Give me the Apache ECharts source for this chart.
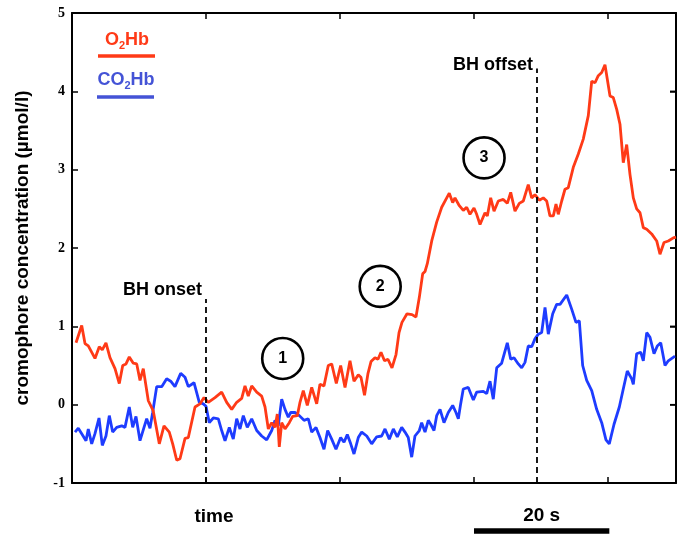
<!DOCTYPE html>
<html>
<head>
<meta charset="utf-8">
<script src="https://cdn.jsdelivr.net/npm/echarts@6/dist/echarts.min.js"></script>
<style>
  html, body { margin: 0; padding: 0; background: #fff; }
  #chart { width: 685px; height: 539px; }
</style>
</head>
<body>
<div id="chart"></div>
<script>
// time in s, concentration in µmol/l
const o2Time = [0.6, 1.45, 1.94, 2.43, 3.43, 4.07, 4.52, 5.07, 5.67, 6.42, 7.06, 7.57, 8.06, 8.55, 9.15, 9.66,
  10.15, 10.64, 11.39, 12.13, 13.03, 13.73, 14.52, 15.03, 15.63, 16.12, 16.87, 17.36, 18.36, 19.1, 19.7,
  20.34, 21.34, 22.34, 23.09, 23.84, 24.58, 25.33, 25.82, 26.31, 26.82, 27.57, 28.31, 28.81, 29.3, 29.81,
  30.3, 30.64, 30.94, 31.3, 31.79, 32.43, 32.94, 33.63, 34.03, 34.52, 35.12, 35.78, 36.52, 37.01, 37.61,
  38.25, 38.76, 39.45, 40.1, 40.75, 41.49, 42.09, 42.73, 43.13, 43.66, 44.18, 44.63, 45.22, 45.67, 46.12,
  46.64, 47.16, 47.76, 48.36, 48.81, 49.25, 50.0, 50.75, 51.34, 51.84, 52.34, 52.69, 53.03, 53.69, 54.43,
  55.18, 55.93, 56.31, 56.82, 57.16, 57.81, 58.4, 58.91, 59.4, 60.0, 60.4, 60.9, 61.64, 61.99, 62.49,
  62.99, 63.63, 64.37, 64.97, 65.48, 66.12, 66.76, 67.36, 68.1, 68.61, 69.1, 69.75, 70.34, 70.85, 71.34,
  71.84, 72.24, 72.58, 73.09, 73.58, 74.07, 74.82, 75.57, 76.31, 77.06, 77.57, 78.06, 78.55, 79.06, 79.55,
  80.3, 80.79, 81.3, 81.79, 82.28, 82.79, 83.28, 83.78, 84.28, 84.78, 85.27, 85.78, 86.52, 87.27, 87.76,
  88.36, 89.0, 89.75, 90.15];
const o2Values = [0.79, 1.01, 0.78, 0.75, 0.59, 0.74, 0.70, 0.79, 0.60, 0.46, 0.27, 0.50, 0.52, 0.61, 0.53, 0.52,
  0.31, 0.46, 0.05, -0.08, -0.50, -0.27, -0.35, -0.50, -0.71, -0.69, -0.43, -0.42, -0.03, 0.01, 0.09,
  0.03, 0.09, 0.16, 0.03, -0.06, 0.03, 0.08, 0.24, 0.11, 0.24, 0.16, 0.11, -0.03, -0.31, -0.23,
  -0.29, -0.12, -0.54, -0.23, -0.31, -0.23, -0.15, -0.14, 0.03, 0.18, -0.01, 0.22, 0.01, 0.26, 0.24,
  0.50, 0.52, 0.27, 0.50, 0.22, 0.56, 0.30, 0.38, 0.35, 0.12, 0.40, 0.55, 0.60, 0.58, 0.67,
  0.56, 0.58, 0.47, 0.64, 0.92, 1.05, 1.16, 1.15, 1.12, 1.37, 1.67, 1.70, 1.80, 2.09, 2.33,
  2.52, 2.64, 2.70, 2.58, 2.64, 2.54, 2.48, 2.52, 2.43, 2.51, 2.43, 2.30, 2.45, 2.41, 2.64,
  2.47, 2.60, 2.62, 2.57, 2.71, 2.47, 2.57, 2.60, 2.81, 2.64, 2.68, 2.61, 2.64, 2.60, 2.41,
  2.41, 2.56, 2.43, 2.60, 2.75, 2.77, 3.03, 3.20, 3.39, 3.69, 4.13, 4.11, 4.20, 4.24, 4.34,
  3.94, 3.92, 3.77, 3.58, 3.09, 3.32, 2.94, 2.64, 2.50, 2.45, 2.26, 2.24, 2.18, 2.09, 1.92,
  2.07, 2.09, 2.13, 2.14];

const co2Time = [0.45, 0.94, 1.45, 2.09, 2.43, 2.94, 3.43, 4.03, 4.52, 5.07, 5.57, 6.07, 6.67, 7.42, 7.91, 8.55,
  9.06, 9.55, 10.15, 10.75, 11.15, 11.64, 12.04, 12.64, 13.39, 14.13, 14.73, 15.37, 16.22, 16.87, 17.36,
  18.21, 19.0, 19.6, 20.0, 20.49, 21.09, 21.84, 22.34, 22.84, 23.48, 24.07, 24.58, 25.07, 25.57, 26.16,
  26.82, 27.57, 28.31, 29.06, 29.81, 30.3, 30.79, 31.3, 31.79, 32.28, 32.64, 33.28, 33.93, 34.63, 35.27,
  35.78, 36.42, 37.01, 37.61, 38.16, 38.76, 39.4, 40.1, 40.6, 41.09, 41.6, 42.09, 42.73, 43.24, 43.99,
  44.73, 45.48, 46.22, 46.72, 47.36, 47.96, 48.55, 49.21, 49.7, 50.19, 50.7, 51.19, 51.84, 52.19, 52.69,
  53.18, 53.54, 54.03, 54.43, 54.93, 55.52, 56.16, 56.82, 57.31, 57.66, 58.01, 58.4, 59.15, 59.9, 60.4,
  61.39, 61.9, 62.39, 62.88, 63.39, 64.13, 64.97, 65.48, 65.97, 66.61, 67.12, 67.61, 68.1, 68.61, 69.1,
  69.6, 70.1, 70.6, 71.09, 71.75, 72.34, 72.84, 73.84, 74.58, 75.22, 75.72, 76.22, 76.82, 77.57, 78.31,
  79.06, 79.7, 80.19, 80.9, 81.69, 82.28, 82.88, 83.54, 83.78, 84.28, 84.88, 85.27, 85.78, 86.27, 86.87,
  87.36, 87.87, 88.51, 89.0, 90.0];
const co2Values = [-0.35, -0.30, -0.37, -0.46, -0.31, -0.50, -0.37, -0.17, -0.52, -0.40, -0.14, -0.35, -0.29, -0.27, -0.29, -0.03,
  -0.29, -0.15, -0.46, -0.29, -0.18, -0.30, -0.10, 0.23, 0.23, 0.33, 0.30, 0.23, 0.40, 0.35, 0.23,
  0.28, 0.03, 0.01, -0.02, -0.23, -0.17, -0.18, -0.33, -0.46, -0.29, -0.44, -0.18, -0.31, -0.14, -0.29,
  -0.18, -0.33, -0.40, -0.45, -0.33, -0.20, -0.27, 0.07, -0.06, -0.16, -0.10, -0.10, -0.14, -0.20, -0.18,
  -0.35, -0.29, -0.42, -0.57, -0.33, -0.44, -0.57, -0.42, -0.48, -0.38, -0.50, -0.63, -0.42, -0.35, -0.40,
  -0.50, -0.41, -0.40, -0.31, -0.44, -0.31, -0.41, -0.29, -0.35, -0.42, -0.67, -0.40, -0.33, -0.23, -0.35,
  -0.20, -0.25, -0.33, -0.14, -0.06, -0.23, -0.10, -0.01, -0.10, -0.18, 0.01, 0.20, 0.22, 0.06, 0.16,
  0.17, 0.14, 0.30, 0.07, 0.47, 0.53, 0.79, 0.58, 0.60, 0.52, 0.47, 0.54, 0.75, 0.74, 0.84,
  0.90, 0.92, 1.24, 0.90, 1.16, 1.28, 1.28, 1.40, 1.22, 1.05, 1.07, 0.50, 0.31, 0.18, -0.06,
  -0.23, -0.45, -0.50, -0.25, -0.03, 0.20, 0.43, 0.33, 0.26, 0.65, 0.67, 0.56, 0.92, 0.86, 0.65,
  0.75, 0.79, 0.50, 0.56, 0.62];

// numbered phases and breath-hold events
const phaseLabels = ['1', '2', '3'];
const phaseTime = [31.45, 46.0, 61.5];
const phaseLevel = [0.59, 1.51, 3.15];
const onsetTime = 20;
const offsetTime = 69.4;
const scaleBarFrom = 60;
const scaleBarTo = 80.2;

const RED = '#ff3a17';
const BLUE = '#1e3cff';
const SANS = 'Liberation Sans, Arial, sans-serif';
const SERIF = 'Liberation Serif, Times New Roman, serif';

const zip = (a, b) => a.map((t, i) => [t, b[i]]);

const chart = echarts.init(document.getElementById('chart'));

const frameAxis = () => ({
  axisLine: { show: true, onZero: false, lineStyle: { color: '#000', width: 2 } },
  axisTick: { show: true, inside: true, length: 6, lineStyle: { color: '#000', width: 1.5 } },
  axisLabel: { show: false },
  splitLine: { show: false }
});

const option = {
  animation: false,
  backgroundColor: '#fff',
  grid: { left: 72, right: 9, top: 13, bottom: 56 },
  xAxis: [
    Object.assign({ type: 'value', min: 0, max: 90.15, interval: 20, position: 'bottom' }, frameAxis()),
    Object.assign({ type: 'value', min: 0, max: 90.15, interval: 20, position: 'top' }, frameAxis())
  ],
  yAxis: [
    {
      type: 'value', min: -1, max: 5, interval: 1, position: 'left',
      name: 'cromophore concentration (µmol/l)',
      nameLocation: 'middle', nameGap: 40, nameRotate: 90,
      nameTextStyle: { fontFamily: SANS, fontWeight: 'bold', fontSize: 19, color: '#000' },
      axisLine: { show: true, onZero: false, lineStyle: { color: '#000', width: 2 } },
      axisTick: { show: true, inside: true, length: 6, lineStyle: { color: '#000', width: 1.5 } },
      axisLabel: { fontFamily: SERIF, fontWeight: 'bold', fontSize: 14, color: '#000', margin: 7 },
      splitLine: { show: false }
    },
    Object.assign({ type: 'value', min: -1, max: 5, interval: 1, position: 'right', alignTicks: false }, frameAxis())
  ],
  series: [
    {
      name: 'CO2Hb', type: 'line', data: zip(co2Time, co2Values),
      showSymbol: false, lineStyle: { color: BLUE, width: 2.8 }, itemStyle: { color: BLUE }
    },
    {
      name: 'O2Hb', type: 'line', data: zip(o2Time, o2Values),
      showSymbol: false, lineStyle: { color: RED, width: 2.8 }, itemStyle: { color: RED },
      markLine: {
        silent: true,
        symbol: ['none', 'none'],
        label: { show: false },
        lineStyle: { color: '#000', width: 1.8, type: [6, 4] },
        data: [
          [{ coord: [onsetTime, -1] }, { coord: [onsetTime, 1.35] }],
          [{ coord: [offsetTime, -1] }, { coord: [offsetTime, 4.29] }]
        ]
      },
      markPoint: {
        silent: true,
        symbol: 'circle',
        symbolSize: 41,
        itemStyle: { color: '#fff', borderColor: '#000', borderWidth: 2.6 },
        label: { show: true, formatter: p => p.name, fontFamily: SANS, fontWeight: 'bold', fontSize: 16, color: '#000' },
        data: phaseLabels.map((l, i) => ({ name: l, coord: [phaseTime[i], phaseLevel[i]] }))
      }
    }
  ]
};

chart.setOption(option);

// annotations outside data: event names, legend, time scale bar
const px = (t, v) => chart.convertToPixel({ xAxisIndex: 0, yAxisIndex: 0 }, [t, v]);
const onsetTop = px(onsetTime, 1.35);
const offsetTop = px(offsetTime, 4.29);
const barA = px(scaleBarFrom, -1);
const barB = px(scaleBarTo, -1);
const yTickLevels = [0, 1, 2, 3, 4];

const bold = (size, fill) => ({ fontFamily: SANS, fontWeight: 'bold', fontSize: size, fill: fill });

const chemText = (x, y, pre, post, fill) => ({
  type: 'text', x: x, y: y,
  style: {
    text: '{n|' + pre + '}{s|2}{n|' + post + '}',
    align: 'center', verticalAlign: 'middle',
    fill: fill,
    rich: {
      n: Object.assign(bold(18, fill), { lineHeight: 22 }),
      s: Object.assign(bold(11, fill), { verticalAlign: 'bottom', lineHeight: 22 })
    }
  }
});

// inward ticks on the right frame edge
const rightTicks = yTickLevels.map(v => {
  const p = px(90.15, v);
  return { type: 'line', shape: { x1: p[0] - 6, y1: p[1], x2: p[0], y2: p[1] }, style: { stroke: '#000', lineWidth: 1.5 } };
});

chart.setOption({
  graphic: [
    { type: 'text', x: onsetTop[0] - 4, y: onsetTop[1] - 9,
      style: Object.assign(bold(18, '#000'), { text: 'BH onset', align: 'right', verticalAlign: 'middle' }) },
    { type: 'text', x: offsetTop[0] - 4, y: offsetTop[1] - 4,
      style: Object.assign(bold(18, '#000'), { text: 'BH offset', align: 'right', verticalAlign: 'middle' }) },
    chemText(127, 40, 'O', 'Hb', RED),
    { type: 'line', shape: { x1: 98, y1: 56, x2: 155, y2: 56 }, style: { stroke: RED, lineWidth: 3.5 } },
    chemText(126, 80, 'CO', 'Hb', '#4453d6'),
    { type: 'line', shape: { x1: 97, y1: 97, x2: 154, y2: 97 }, style: { stroke: '#4453d6', lineWidth: 3.5 } },
    { type: 'text', x: 214, y: 517,
      style: Object.assign(bold(19, '#000'), { text: 'time', align: 'center', verticalAlign: 'middle' }) },
    { type: 'text', x: (barA[0] + barB[0]) / 2, y: 516,
      style: Object.assign(bold(19, '#000'), { text: '20 s', align: 'center', verticalAlign: 'middle' }) },
    { type: 'line', shape: { x1: barA[0], y1: 531, x2: barB[0], y2: 531 }, style: { stroke: '#000', lineWidth: 5.5 } }
  ].concat(rightTicks)
});
</script>
</body>
</html>
